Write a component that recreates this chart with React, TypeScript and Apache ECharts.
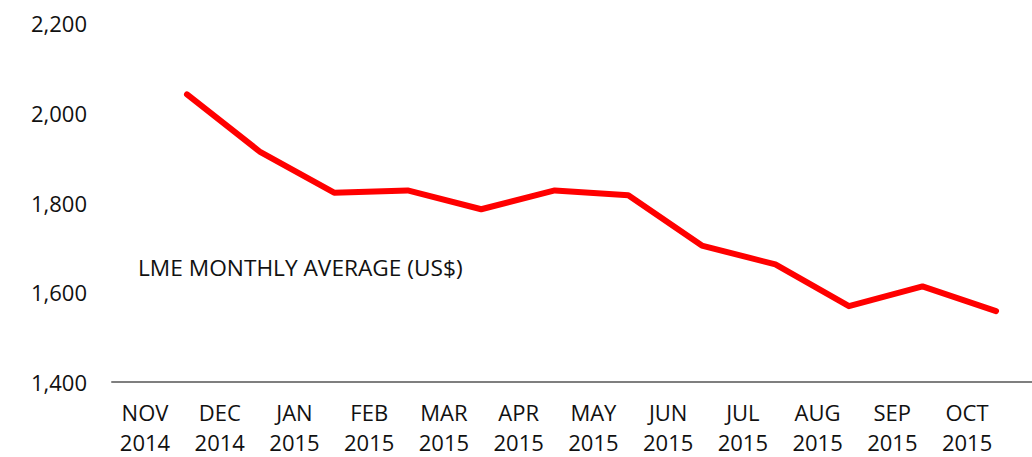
import React, { useEffect, useRef } from "react";
import * as echarts from "echarts";

const months = ["NOV\n2014", "DEC\n2014", "JAN\n2015", "FEB\n2015", "MAR\n2015", "APR\n2015", "MAY\n2015", "JUN\n2015", "JUL\n2015", "AUG\n2015", "SEP\n2015", "OCT\n2015"];
const prices = [2041, 1912, 1822, 1827, 1785, 1827, 1816, 1704, 1662, 1569, 1613, 1558];
const yTicks = [1400, 1600, 1800, 2000, 2200];
const seriesLabel = "LME MONTHLY AVERAGE (US$)";

const FONT = "'Open Sans', 'Noto Sans', sans-serif";

export default function App() {
  const ref = useRef<HTMLDivElement>(null);
  useEffect(() => {
    if (!ref.current) return;
    const chart = echarts.init(ref.current, null, { renderer: "svg" });
    chart.setOption({
      animation: false,
      backgroundColor: "#ffffff",
      grid: { left: 112, right: 0, top: 23, bottom: 70, containLabel: false },
      xAxis: [
        {
          type: "value",
          min: -0.4416,
          max: 11.869,
          axisLine: { show: true, lineStyle: { color: "#7f7f7f", width: 2 } },
          axisTick: { show: false },
          splitLine: { show: false },
          axisLabel: {
            customValues: months.map((_, i) => i),
            formatter: (v: number) => months[Math.round(v)] ?? "",
            color: "#111",
            fontFamily: FONT,
            fontSize: 22,
            lineHeight: 30,
            margin: 15,
            align: "center",
          },
        },
        {
          type: "value",
          min: -1.0198,
          max: 11.489,
          show: false,
          position: "bottom",
        },
      ],
      yAxis: {
        type: "value",
        min: yTicks[0],
        max: yTicks[yTicks.length - 1],
        interval: 200,
        axisLine: { show: false },
        axisTick: { show: false },
        splitLine: { show: false },
        axisLabel: {
          formatter: (v: number) => v.toLocaleString("en-US"),
          color: "#111",
          fontFamily: FONT,
          fontSize: 22,
          margin: 25,
        },
      },
      graphic: [
        {
          type: "text",
          left: 138,
          top: 256,
          style: { text: seriesLabel, fill: "#111", font: `22.7px ${FONT}` },
        },
      ],
      series: [
        {
          type: "line",
          xAxisIndex: 1,
          data: prices.map((v, i) => [i, v]),
          showSymbol: false,
          lineStyle: { color: "#ff0000", width: 6, cap: "round", join: "round" },
        },
      ],
    });
    return () => chart.dispose();
  }, []);
  return <div ref={ref} style={{ position: "fixed", left: 0, top: 0, width: 1032, height: 457 }} />;
}
